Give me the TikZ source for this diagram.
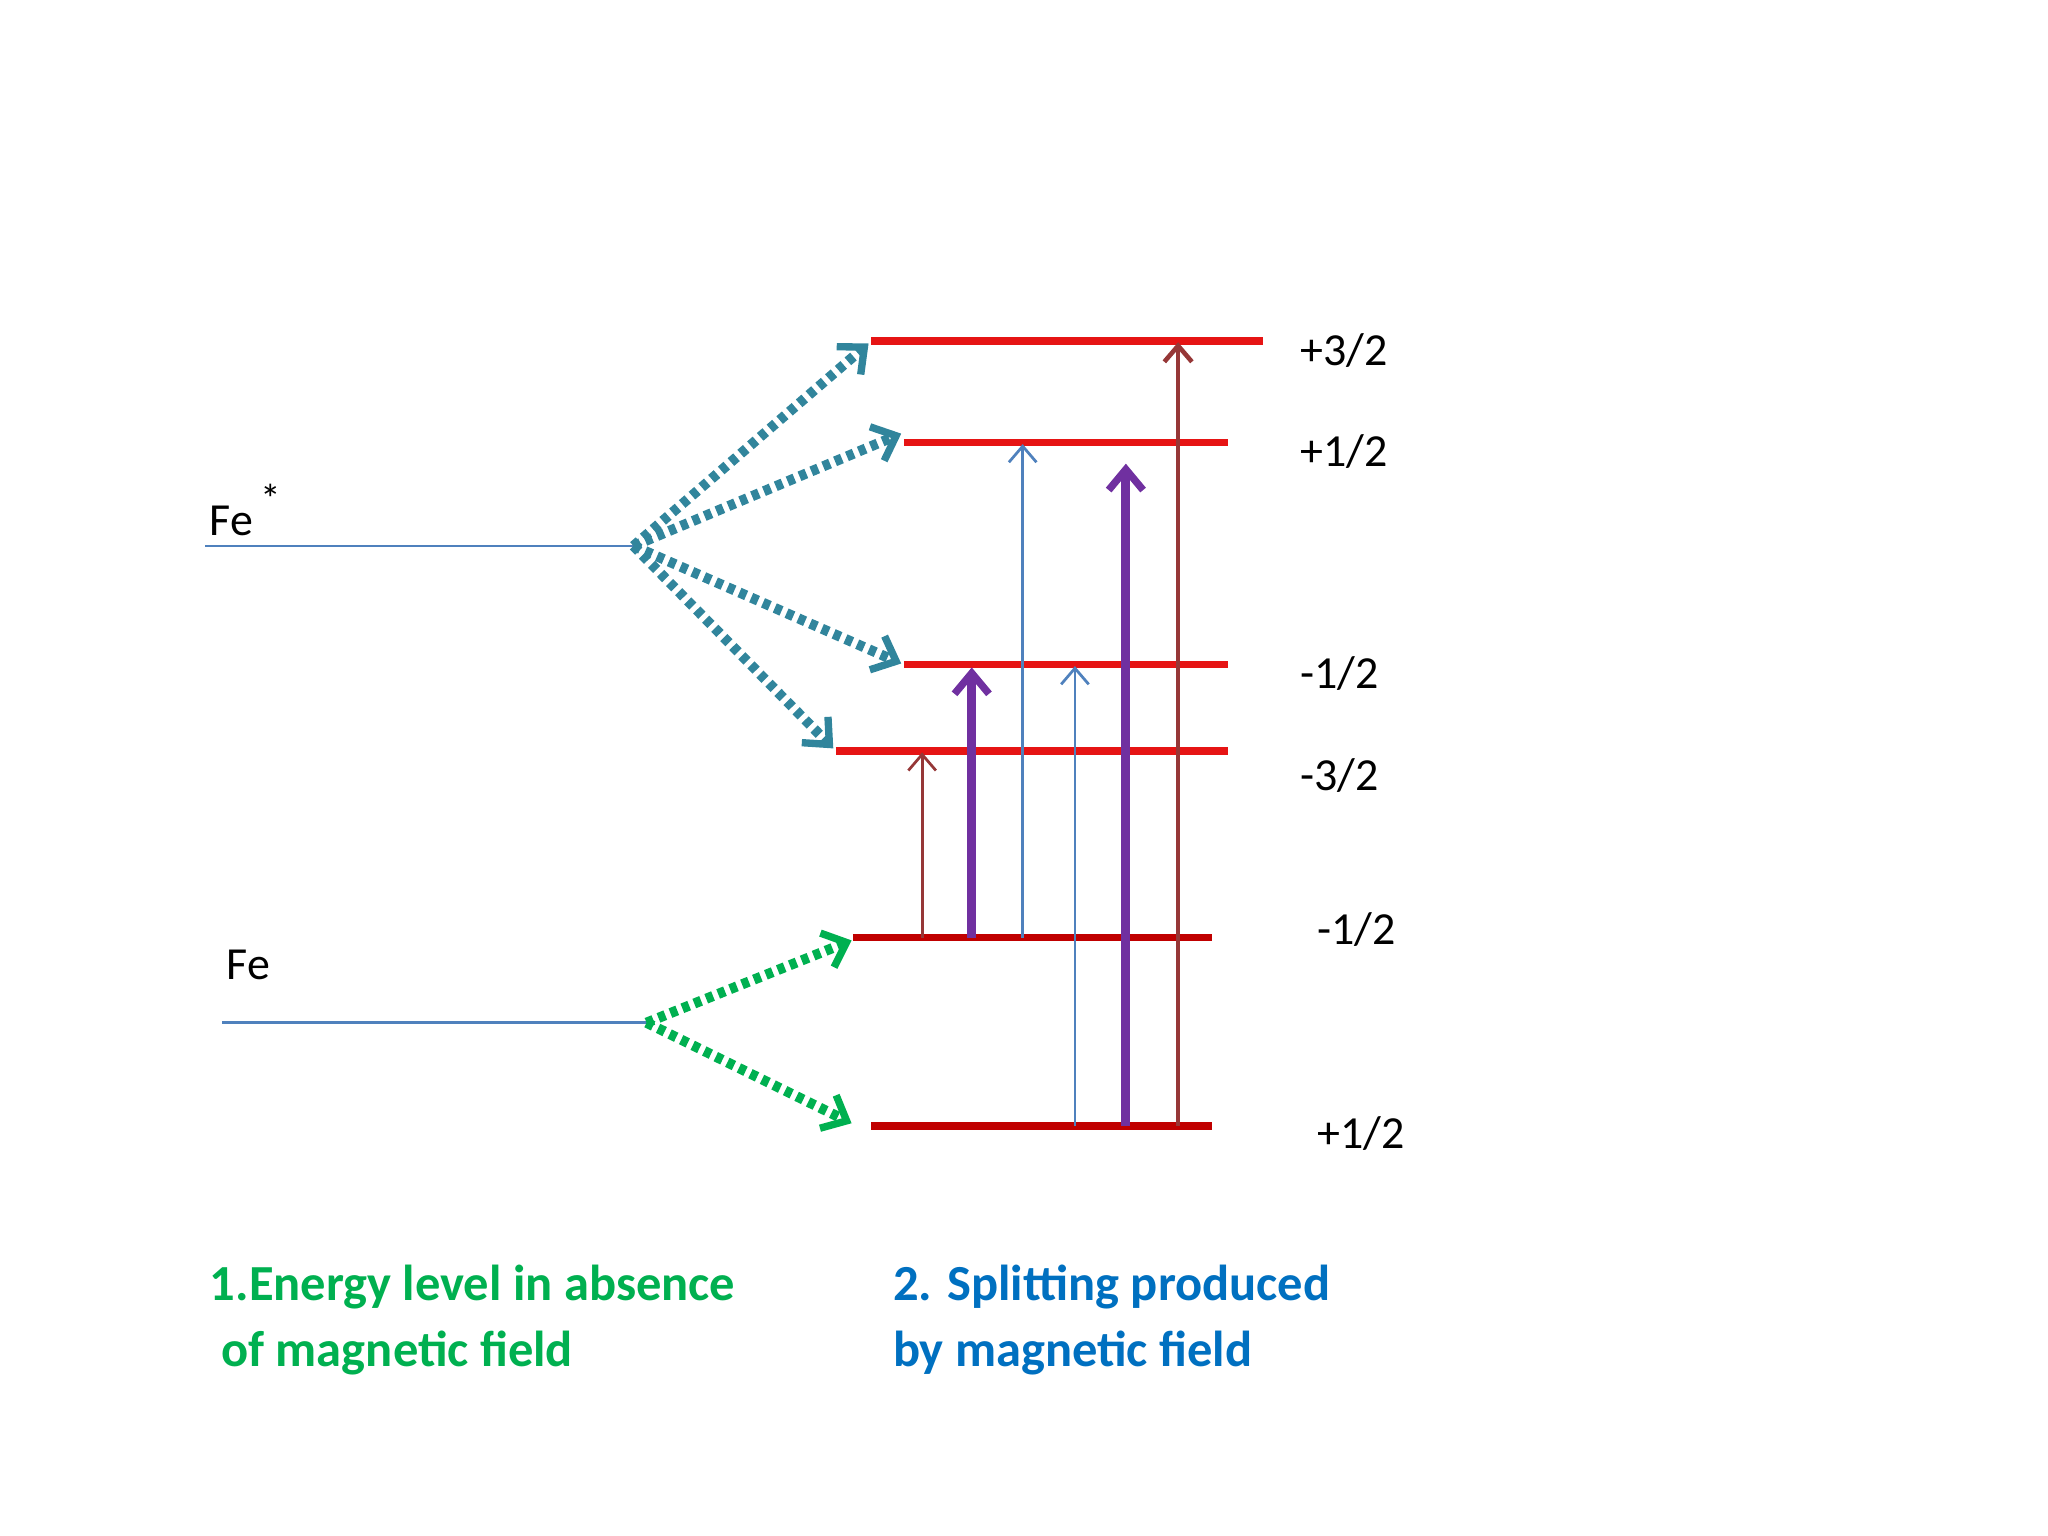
\documentclass[tikz,border=0pt]{standalone}
\usepackage{fontspec}
\setmainfont{Carlito}
\usetikzlibrary{arrows.meta}
\definecolor{teal1}{RGB}{49,133,156}
\definecolor{grn}{RGB}{0,176,80}
\definecolor{bl}{RGB}{0,112,192}
\definecolor{lvl}{RGB}{230,20,20}
\definecolor{dlvl}{RGB}{192,0,0}
\definecolor{brn}{RGB}{150,55,55}
\definecolor{pur}{RGB}{112,48,160}
\definecolor{thinb}{RGB}{79,129,189}
\begin{document}
\begin{tikzpicture}[x=0.01cm,y=-0.01cm,
 lab/.style={font=\fontsize{10pt}{12pt}\selectfont,anchor=west,inner sep=0},
 up/.style={draw=lvl,line width=1.6pt},
 lo/.style={draw=dlvl,line width=1.6pt},
 dots/.style={line width=2.2pt,dash pattern=on 1.6pt off 1.2pt,-{Straight Barb[length=4.5pt,width=8pt,line width=1.6pt]}},
 thinar/.style={line width=0.6pt,-{Straight Barb[length=3.5pt,width=6pt]}},
 thickar/.style={pur,line width=2pt,-{Straight Barb[length=4.5pt,width=7.5pt,line width=1.6pt]}},
 captext/.style={font=\fontsize{11pt}{13.3pt}\selectfont\bfseries,anchor=north west,inner sep=0,align=left}]
\useasboundingbox (0,0) rectangle (1568,1176);
% base levels
\coordinate (fs0) at (157,418); \coordinate (fs) at (485,418);
\coordinate (f0) at (170,783); \coordinate (f) at (495,783);
\draw[thinb,line width=0.6pt] (fs0)--(fs);
\draw[thinb,line width=0.6pt] (f0)--(f);
\node[lab,anchor=base west] (lfs) at (160,410) {Fe\,\raisebox{1ex}{\small *}};
\node[lab,anchor=base west] (lf) at (173,750) {Fe};
% split levels
\coordinate (a1) at (667,261); \coordinate (a2) at (967,261);
\coordinate (b1) at (692,339); \coordinate (b2) at (940,339);
\coordinate (c1) at (692,509); \coordinate (c2) at (940,509);
\coordinate (d1) at (640,575); \coordinate (d2) at (940,575);
\coordinate (e1) at (653,718); \coordinate (e2) at (928,718);
\coordinate (g1) at (667,862); \coordinate (g2) at (928,862);
\draw[up] (a1)--(a2); \draw[up] (b1)--(b2); \draw[up] (c1)--(c2); \draw[up] (d1)--(d2);
\draw[lo] (e1)--(e2); \draw[lo] (g1)--(g2);
\node[lab] (la) at (995,268) {+3/2};
\node[lab] (lb) at (995,346) {+1/2};
\node[lab] (lc) at (995,516) {-1/2};
\node[lab] (ld) at (995,594) {-3/2};
\node[lab] (le) at (1008,712) {-1/2};
\node[lab] (lg) at (1008,868) {+1/2};
% dotted arrows
\draw[dots,teal1] (fs)--(665,263);
\draw[dots,teal1] (fs)--(690,332);
\draw[dots,teal1] (fs)--(690,508);
\draw[dots,teal1] (fs)--(638,573);
\draw[dots,grn] (f)--(652,720);
\draw[dots,grn] (f)--(652,860);
% transitions
\draw[thinar,brn] (706,718)--(706,576);
\draw[thickar] (744,718)--(744,511);
\draw[thinar,thinb] (783,718)--(783,340);
\draw[thinar,thinb] (823,862)--(823,510);
\draw[thickar] (862,862)--(862,355);
\draw[thinar,brn,line width=1pt] (902,862)--(902,262);
% captions
\node[captext,text=grn] (c1t) at (160,968) {1.Energy level in absence\\[1pt]\ of magnetic field};
\node[captext,text=bl] (c2t) at (683,968) {2. Splitting produced\\[1pt]by magnetic field};
\end{tikzpicture}
\end{document}
